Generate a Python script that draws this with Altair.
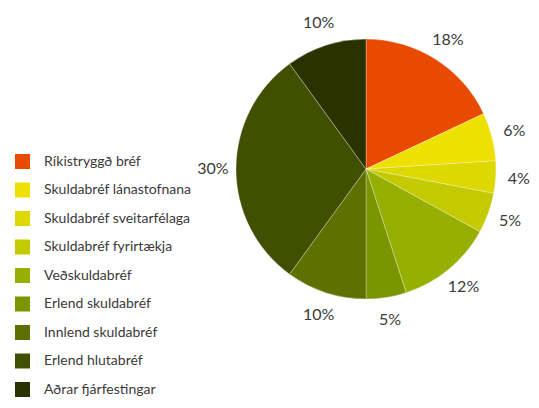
import altair as alt
import pandas as pd

categories = ["Ríkistryggð bréf", "Skuldabréf lánastofnana", "Skuldabréf sveitarfélaga",
              "Skuldabréf fyrirtækja", "Veðskuldabréf", "Erlend skuldabréf",
              "Innlend skuldabréf", "Erlend hlutabréf", "Aðrar fjárfestingar"]
values = [18, 6, 4, 5, 12, 5, 10, 30, 10]
colors = ["#E84A00", "#EEE000", "#DCD800", "#C4CA00", "#96AF00", "#7A9500",
          "#5E7000", "#415000", "#2A3300"]

df = pd.DataFrame({"cat": categories, "val": values, "order": list(range(len(values)))})
df["label"] = df["val"].astype(str) + "%"

FONT = "Lato"
cx, cy = 358, 161

base = alt.Chart(df).encode(
    theta=alt.Theta("val:Q", stack=True),
    order=alt.Order("order:Q"),
)

pie = base.mark_arc(outerRadius=130, stroke="#ffffff", strokeWidth=0.5, strokeOpacity=0.6).encode(
    x=alt.value(cx), y=alt.value(cy),
    color=alt.Color("cat:N", sort=categories,
                    scale=alt.Scale(domain=categories, range=colors),
                    legend=alt.Legend(title=None, orient="none", legendX=7, legendY=146,
                                      symbolType="square", symbolSize=225, symbolStrokeWidth=0,
                                      labelFont=FONT, labelFontSize=14,
                                      labelColor="#3a3a3a",
                                      rowPadding=13.5, labelOffset=14, labelLimit=300)),
)

labels = base.mark_text(radius=153, font=FONT, fontSize=16, color="#3a3a3a").encode(
    x=alt.value(cx), y=alt.value(cy),
    text="label:N",
)

chart = (pie + labels).properties(
    width=523, height=392, padding=0,
    autosize=alt.AutoSizeParams(type="none"),
).configure_view(stroke=None)

chart.save("out.html", embed_options={"renderer": "svg", "actions": False})
